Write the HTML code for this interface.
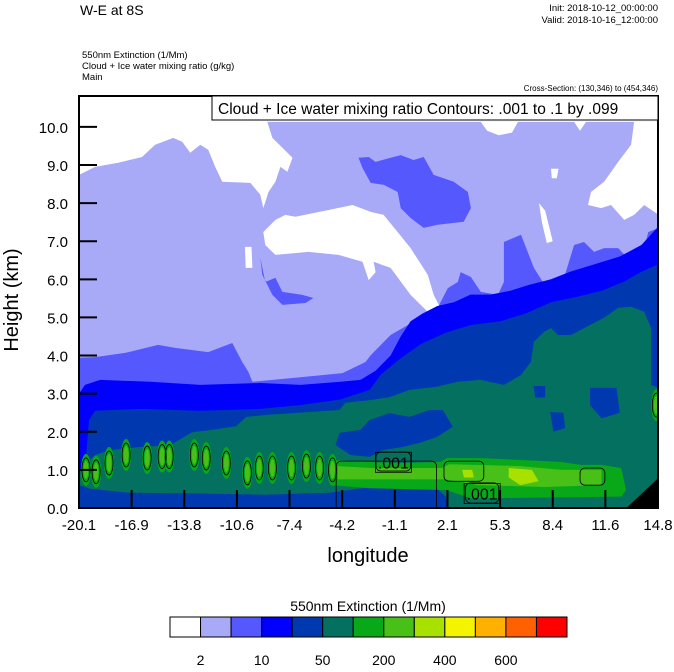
<!DOCTYPE html>
<html><head><meta charset="utf-8">
<style>
html,body{margin:0;padding:0;background:#fff;}
body{width:674px;height:667px;overflow:hidden;font-family:"Liberation Sans",sans-serif;}
svg text{font-family:"Liberation Sans",sans-serif;}
</style></head>
<body>
<svg id="chart" width="674" height="667" viewBox="0 0 674 667" xmlns="http://www.w3.org/2000/svg">
  <text x="80" y="15" font-size="14">W-E at 8S</text>
  <text x="658" y="11" font-size="9.5" text-anchor="end">Init: 2018-10-12_00:00:00</text>
  <text x="658" y="23" font-size="9.5" text-anchor="end">Valid: 2018-10-16_12:00:00</text>
  <text x="82" y="58" font-size="9.5">550nm Extinction   (1/Mm)</text>
  <text x="82" y="69" font-size="9.5">Cloud + Ice water mixing ratio   (g/kg)</text>
  <text x="82" y="80" font-size="9.5">Main</text>
  <text x="658" y="91" font-size="8" text-anchor="end">Cross-Section: (130,346) to (454,346)</text>
  <defs><clipPath id="plotclip"><rect x="79" y="96" width="579" height="412"/></clipPath></defs>
  <g id="fills" clip-path="url(#plotclip)"></g>
  <g id="lines" clip-path="url(#plotclip)"></g>
  <g id="axes"></g>
  <g>
    <rect x="212" y="96" width="446" height="24" fill="#fff" stroke="#000" stroke-width="1"/>
    <text x="218" y="114" font-size="15.5">Cloud + Ice water mixing ratio Contours: .001 to .1 by .099</text>
  </g>
  <text transform="translate(18,300) rotate(-90)" font-size="20" text-anchor="middle">Height (km)</text>
  <text x="368" y="562" font-size="20" text-anchor="middle">longitude</text>
  <text x="368" y="611" font-size="14" text-anchor="middle">550nm Extinction  (1/Mm)</text>
  <g id="cbar"></g>
</svg>
<script>
const NS="http://www.w3.org/2000/svg";
// axis domains
const lonDomain=[-20.1,14.8];
const hDomain=[0,10.81];
const xTicks=[-20.1,-16.9,-13.8,-10.6,-7.4,-4.2,-1.1,2.1,5.3,8.4,11.6,14.8];
const yTicks=[0,1,2,3,4,5,6,7,8,9,10];
const levelColors=["#ffffff","#a8aaf8","#5558fc","#0000fc","#0038b0","#037060","#08a818","#48c018","#a8e000","#f4f400","#ffb000","#ff6000","#ff0000"];
const levelLabels=["2","10","50","200","400","600"];
// contour regions [lon,h]
const whiteTopLeft=[[-20.1,10.81],[-8.75,10.81],[-8.75,10.13],[-8.44,9.71],[-7.84,9.45],[-7.23,9.19],[-7.54,8.82],[-7.96,8.95],[-8.26,8.56],[-8.68,8.29],[-8.99,7.87],[-9.17,8.22],[-9.77,8.53],[-11.46,8.56],[-11.89,8.95],[-12.31,9.40],[-12.79,9.53],[-13.40,9.32],[-13.88,9.61],[-14.42,9.71],[-15.51,9.53],[-16.30,9.21],[-17.74,9.06],[-19.13,8.95],[-20.1,8.74]];
const whiteTopStrip=[[-8.75,10.81],[14.85,10.81],[14.85,10.13],[-8.75,10.13]];
const whiteSmallA=[[4.12,10.13],[6.36,10.13],[6.0,9.85],[5.2,9.78],[4.5,9.9]];
const whiteSmallB=[[9.74,10.13],[10.46,10.13],[10.1,9.9]];
const whiteSmallC=[[8.35,8.9],[8.8,8.9],[8.7,8.65],[8.4,8.65]];
const whiteSliver=[[7.63,8.0],[8.0,7.8],[8.45,7.0],[8.1,6.95],[7.8,7.5]];
const whiteRight=[[14.85,10.13],[13.36,10.13],[13.18,9.53],[12.40,9.08],[11.55,8.56],[10.76,8.29],[10.58,7.95],[11.37,7.87],[11.97,7.95],[12.76,7.56],[13.36,7.69],[13.97,7.95],[14.85,7.69]];
const whiteMiddle=[[-8.99,7.24],[-8.26,7.56],[-7.66,7.69],[-7.05,7.64],[-5.06,7.82],[-3.61,7.95],[-2.52,7.77],[-1.74,7.69],[-0.89,7.24],[-0.11,6.82],[0.92,6.12],[1.28,5.59],[1.89,5.07],[1.28,4.99],[-0.11,5.59],[-1.32,6.30],[-2.34,6.46],[-2.22,6.19],[-2.64,5.98],[-3.01,6.46],[-4.46,6.64],[-6.27,6.72],[-8.26,6.64],[-8.87,6.90]];
const whiteDot=[[-10.1,6.85],[-9.7,6.85],[-9.65,6.3],[-10.05,6.3]];
const medPatchA=[[-3.25,9.19],[-2.64,9.21],[-2.22,9.08],[-1.32,9.19],[-0.71,9.26],[0.07,9.13],[0.68,9.21],[1.28,8.74],[2.49,8.56],[3.34,8.29],[3.52,7.87],[3.09,7.51],[1.52,7.43],[0.68,7.35],[-0.11,7.61],[-0.71,7.87],[-0.89,8.29],[-1.74,8.48],[-2.52,8.53],[-3.01,8.92]];
const medPatchB=[[-9.17,6.56],[-8.87,5.93],[-8.26,6.04],[-7.84,5.67],[-6.63,5.59],[-5.97,5.51],[-6.45,5.38],[-7.84,5.33],[-8.44,5.59],[-9.05,6.12]];
const medTop=[[-20.1,3.94],[-19.13,3.96],[-17.32,4.07],[-15.33,4.28],[-14.30,4.20],[-12.31,4.09],[-10.86,4.33],[-10.26,3.83],[-9.89,3.57],[-9.65,3.31],[-7.23,3.41],[-4.22,3.54],[-2.83,3.83],[-2.52,4.01],[-1.32,4.54],[-0.29,4.80],[0.68,4.88],[1.52,5.25],[2.13,5.77],[2.73,5.93],[2.91,6.19],[3.52,6.06],[4.12,5.67],[5.15,5.59],[5.51,5.93],[5.51,6.98],[6.54,7.17],[7.32,6.30],[8.35,5.59],[8.95,5.77],[9.74,6.90],[10.34,6.98],[10.95,6.72],[11.55,6.82],[12.40,6.82],[13.18,6.46],[13.78,6.46],[14.21,7.24],[14.85,7.35]];
const blueTop=[[-20.1,3.0],[-19.74,3.23],[-18.83,3.36],[-15.8,3.31],[-12.79,3.23],[-9.17,3.28],[-6.75,3.23],[-4.34,3.31],[-3.13,3.36],[-2.22,3.6],[-1.32,4.0],[-0.71,4.5],[-0.11,4.9],[0.6,5.1],[1.5,5.3],[2.5,5.4],[3.5,5.6],[4.7,5.6],[5.9,5.7],[7.0,5.85],[8.35,6.0],[9.5,6.2],[11.0,6.4],[12.5,6.6],[13.8,6.9],[14.85,7.4]];
const darkTop=[[-20.1,0.47],[-19.74,0.99],[-19.5,2.3],[-19.13,2.55],[-16.42,2.6],[-12.79,2.55],[-9.17,2.6],[-6.75,2.7],[-4.34,2.85],[-2.58,3.1],[-1.9,3.5],[-0.8,3.9],[0.5,4.3],[2.0,4.6],[3.5,4.8],[5.3,4.9],[6.8,5.1],[8.35,5.4],[10.0,5.55],[11.4,5.7],[12.8,5.95],[13.8,6.2],[14.85,6.4]];
const tealTop=[[-20.1,1.00],[-19.13,1.39],[-18.22,1.52],[-16.42,1.60],[-14.60,1.65],[-13.28,1.99],[-12.07,2.05],[-10.62,2.15],[-10.02,2.39],[-8.87,2.44],[-7.23,2.49],[-4.40,2.57],[-4.04,2.76],[-2.58,2.83],[-1.38,2.91],[-0.17,3.10],[1.46,3.18],[2.73,3.31],[4.12,3.36],[5.51,3.23],[6.54,3.49],[7.14,3.83],[7.32,4.36],[7.92,4.62],[8.35,4.72],[8.77,4.54],[9.56,4.54],[10.34,4.72],[11.55,4.99],[12.40,5.25],[13.18,5.28],[13.97,5.15],[14.39,4.72],[14.39,3.23],[14.85,3.15]];
const darkBottom=[[-20.1,0],[-20.1,0.6],[-19.4,0.5],[-17,0.4],[-13,0.38],[-9,0.35],[-5,0.4],[-2.5,0.55],[0,0.55],[1.5,0.5],[2.0,0.3],[2.2,0]];
const darkCenter=[[-4.40,1.97],[-3.13,2.05],[-2.58,2.31],[-1.38,2.49],[-0.17,2.39],[1.04,2.57],[1.83,2.57],[2.43,2.13],[1.46,1.86],[0.44,1.71],[-0.59,1.60],[-1.80,1.52],[-2.58,1.34],[-3.73,1.39],[-4.64,1.65]];
const darkPatchA=[[10.7,3.15],[12.3,3.15],[12.5,2.5],[11.4,2.35],[10.7,2.7]];
const darkPatchB=[[8.3,2.52],[9.1,2.5],[9.2,2.1],[8.5,2.0]];
const darkPatchC=[[7.3,3.2],[8.0,3.2],[8.0,2.9],[7.4,2.9]];
const greenBand=[[-4.94,1.26],[-2.58,1.21],[-0.71,1.18],[1.70,1.21],[2.07,1.31],[4.12,1.31],[6.54,1.26],[8.95,1.21],[10.16,1.13],[11.37,1.13],[12.58,1.05],[12.88,0.47],[12.58,0.3],[3.52,0.25],[2.91,0.34],[2.07,0.47],[-2.58,0.52],[-4.94,0.60]];
const lightGreenBand=[[-4.5,1.1],[-2.5,1.05],[1.8,1.05],[2.2,1.15],[6.5,1.1],[9,1.0],[11.4,1.0],[11.4,0.6],[8,0.55],[4,0.6],[2,0.75],[-4.5,0.75]];
const yellowGreenA=[[5.8,1.05],[7.2,1.0],[7.6,0.7],[6.5,0.6],[5.8,0.8]];
const yellowGreenB=[[3.0,1.0],[3.6,1.0],[3.7,0.8],[3.1,0.8]];
const blackCorner=[[12.9,0],[14.85,0.8],[14.85,0]];
// isolated blobs
const blobLon=[-19.68,-19.07,-18.29,-17.26,-15.99,-15.09,-14.66,-13.15,-12.43,-11.22,-9.95,-9.23,-8.44,-7.29,-6.39,-5.60,-4.82,14.7];
const blobH=[1.0,0.95,1.18,1.39,1.31,1.35,1.35,1.39,1.31,1.18,0.92,1.05,1.05,1.05,1.1,1.05,1.0,2.7];
const contourBoxes=[[-4.6,1.23,1.45,-1.1],[-2.2,1.47,-0.1,0.97],[3.2,0.66,5.2,0.13],[1.9,1.23,4.3,0.7],[10.1,1.05,11.6,0.6]];
const contourLabelLon=[-1.15,4.2];
const contourLabelH=[1.2,0.38];

const X0=79,X1=658,Y0=508,Y1=96;
function xs(l){return X0+(l-lonDomain[0])/(lonDomain[1]-lonDomain[0])*(X1-X0);}
function ys(h){return Y0-(h-hDomain[0])/(hDomain[1]-hDomain[0])*(Y0-Y1);}
const fills=document.getElementById('fills');
const lines=document.getElementById('lines');
function poly(pts,color,name,parent){
  const p=document.createElementNS(NS,'polygon');
  p.setAttribute('points',pts.map(q=>xs(q[0]).toFixed(1)+','+ys(q[1]).toFixed(1)).join(' '));
  p.setAttribute('fill',color);
  
  
  (parent||fills).appendChild(p);
}
function below(curve){return curve.concat([[lonDomain[1]+0.2,0],[lonDomain[0]-0.2,0]]);}
const bg=[[-20.2,11],[15,11],[15,0],[-20.2,0]];
poly(bg,levelColors[1],'level-2-10-background');
poly(whiteTopLeft,levelColors[0],'clear-region-top-left');
poly(whiteTopStrip,levelColors[0],'clear-region-top');
poly(whiteSmallA,levelColors[0],'clear-patch-a');
poly(whiteSmallB,levelColors[0],'clear-patch-b');
poly(whiteSmallC,levelColors[0],'clear-patch-c');
poly(whiteSliver,levelColors[0],'clear-sliver');
poly(whiteRight,levelColors[0],'clear-region-right');
poly(whiteMiddle,levelColors[0],'clear-region-middle');
poly(whiteDot,levelColors[0],'clear-dot');
poly(medPatchA,levelColors[2],'level-10-patch-a');
poly(medPatchB,levelColors[2],'level-10-patch-b');
poly(below(medTop),levelColors[2],'level-10-region');
poly(below(blueTop),levelColors[3],'level-20-region');
poly(below(darkTop),levelColors[4],'level-50-region');
poly(below(tealTop),levelColors[5],'level-100-region');
poly(darkBottom,levelColors[4],'level-50-bottom');
poly(darkCenter,levelColors[4],'level-50-center');
poly(darkPatchA,levelColors[4],'level-50-patch-a');
poly(darkPatchB,levelColors[4],'level-50-patch-b');
poly(darkPatchC,levelColors[4],'level-50-patch-c');
poly(greenBand,levelColors[6],'level-200-band');
poly(lightGreenBand,levelColors[7],'level-300-band');
poly(yellowGreenA,levelColors[8],'level-400-patch-a');
poly(yellowGreenB,levelColors[8],'level-400-patch-b');
for(let i=0;i<blobLon.length;i++){
  const cx=xs(blobLon[i]),cy=ys(blobH[i]);
  const e=document.createElementNS(NS,'ellipse');
  e.setAttribute('cx',cx);e.setAttribute('cy',cy);e.setAttribute('rx',5);e.setAttribute('ry',16);
  e.setAttribute('fill',levelColors[6]);
  
  
  fills.appendChild(e);
  const e2=document.createElementNS(NS,'ellipse');
  e2.setAttribute('cx',cx);e2.setAttribute('cy',cy);e2.setAttribute('rx',2.5);e2.setAttribute('ry',9);
  e2.setAttribute('fill',levelColors[7]);
  
  
  fills.appendChild(e2);
  const c=document.createElementNS(NS,'ellipse');
  c.setAttribute('cx',cx);c.setAttribute('cy',cy);c.setAttribute('rx',4);c.setAttribute('ry',12);
  c.setAttribute('fill','none');c.setAttribute('stroke','#000');c.setAttribute('stroke-width','0.8');
  
  
  lines.appendChild(c);
}
poly(blackCorner,'#000','terrain');
for(const b of contourBoxes){
  const r=document.createElementNS(NS,'rect');
  const x=xs(b[0]),y=ys(b[1]);
  r.setAttribute('x',x);r.setAttribute('y',y);r.setAttribute('width',xs(b[2])-x);r.setAttribute('height',ys(b[3])-y);
  r.setAttribute('rx',5);r.setAttribute('fill','none');r.setAttribute('stroke','#000');r.setAttribute('stroke-width','0.8');
  
  
  lines.appendChild(r);
}
for(let i=0;i<contourLabelLon.length;i++){
  const cx=xs(contourLabelLon[i]),cy=ys(contourLabelH[i]);
  const r=document.createElementNS(NS,'rect');
  r.setAttribute('x',cx-18);r.setAttribute('y',cy-10);r.setAttribute('width',36);r.setAttribute('height',20);
  r.setAttribute('fill','none');r.setAttribute('stroke','#000');r.setAttribute('stroke-width','0.8');
  
  
  lines.appendChild(r);
  const t=document.createElementNS(NS,'text');
  t.setAttribute('x',cx);t.setAttribute('y',cy+6);t.setAttribute('text-anchor','middle');t.setAttribute('font-size','16');
  t.textContent='.001';
  
  
  lines.appendChild(t);
}
// axes
const axes=document.getElementById('axes');
const frame=document.createElementNS(NS,'rect');
frame.setAttribute('x',X0);frame.setAttribute('y',Y1);frame.setAttribute('width',X1-X0);frame.setAttribute('height',Y0-Y1);
frame.setAttribute('fill','none');frame.setAttribute('stroke','#000');frame.setAttribute('stroke-width','2');


axes.appendChild(frame);
xTicks.forEach((v,i)=>{
  const x=X0+i*(X1-X0)/(xTicks.length-1);
  const l=document.createElementNS(NS,'line');
  l.setAttribute('x1',x);l.setAttribute('x2',x);l.setAttribute('y1',Y0);l.setAttribute('y2',Y0-18);
  l.setAttribute('stroke','#000');l.setAttribute('stroke-width','2');
  
  
  axes.appendChild(l);
  const t=document.createElementNS(NS,'text');
  t.setAttribute('x',x);t.setAttribute('y',530);t.setAttribute('text-anchor','middle');t.setAttribute('font-size','15');
  t.textContent=v.toFixed(1);
  
  
  axes.appendChild(t);
});
yTicks.forEach(v=>{
  const y=ys(v);
  const l=document.createElementNS(NS,'line');
  l.setAttribute('x1',X0);l.setAttribute('x2',X0+18);l.setAttribute('y1',y);l.setAttribute('y2',y);
  l.setAttribute('stroke','#000');l.setAttribute('stroke-width','2');
  
  
  axes.appendChild(l);
  const t=document.createElementNS(NS,'text');
  t.setAttribute('x',68);t.setAttribute('y',y+6);t.setAttribute('text-anchor','end');t.setAttribute('font-size','15');
  t.textContent=v.toFixed(1);
  
  
  axes.appendChild(t);
});
// colorbar
const cbar=document.getElementById('cbar');
const cbX=170,cbW=397,cbY=617,cbH=20,bw=cbW/levelColors.length;
levelColors.forEach((c,i)=>{
  const r=document.createElementNS(NS,'rect');
  r.setAttribute('x',cbX+i*bw);r.setAttribute('y',cbY);r.setAttribute('width',bw);r.setAttribute('height',cbH);
  r.setAttribute('fill',c);r.setAttribute('stroke','#000');r.setAttribute('stroke-width','1');
  
  
  cbar.appendChild(r);
});
levelLabels.forEach((s,i)=>{
  const t=document.createElementNS(NS,'text');
  t.setAttribute('x',cbX+(1+2*i)*bw);t.setAttribute('y',665);t.setAttribute('text-anchor','middle');t.setAttribute('font-size','14');
  t.textContent=s;
  
  
  cbar.appendChild(t);
});
</script>
</body></html>
